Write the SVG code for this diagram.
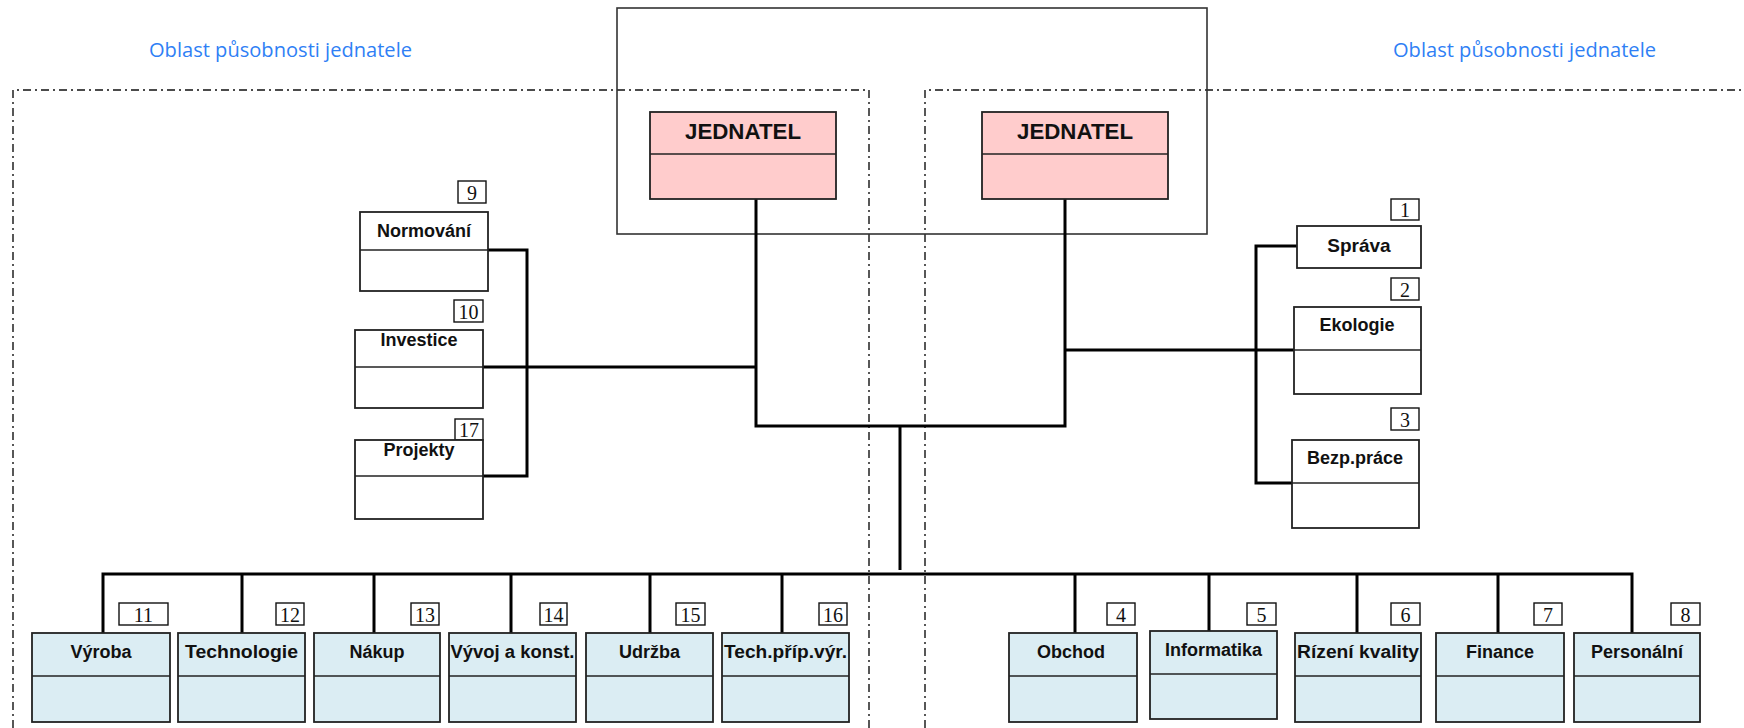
<svg xmlns="http://www.w3.org/2000/svg" width="1744" height="728" viewBox="0 0 1744 728">
  <style>
    .bg { fill: #ffffff; }
    .zone { fill: none; stroke: #111; stroke-width: 1.4; stroke-dasharray: 8 4 2 4; }
    .frame { fill: none; stroke: #333; stroke-width: 1.6; }
    .box { stroke: #222; stroke-width: 1.8; }
    .pink { fill: #ffcccc; }
    .blue { fill: #dbedf3; }
    .white { fill: #ffffff; }
    .div { stroke: #222; stroke-width: 1.6; }
    .num { fill: #ffffff; stroke: #111; stroke-width: 1.4; }
    .numt { font-family: "Liberation Serif", serif; font-size: 20px; fill: #111; text-anchor: middle; }
    .lbl { font-family: "Liberation Sans", Arial, sans-serif; font-size: 18px; font-weight: bold; fill: #111; text-anchor: middle; }
    .head { font-family: "Liberation Sans", Arial, sans-serif; font-size: 22px; font-weight: bold; fill: #111; text-anchor: middle; }
    .area { font-family: "Open Sans", "Noto Sans", sans-serif; font-size: 20px; fill: #2f7ff5; }
    .wire { fill: none; stroke: #000; stroke-width: 3; stroke-linejoin: miter; }
  </style>

  <rect class="bg" x="0" y="0" width="1744" height="728"/>

  <!-- areas of responsibility -->
  <g id="zones">
    <path class="zone" d="M13,728 V90 H869 V728"/>
    <path class="zone" d="M925,728 V90 H1744"/>
    <text class="area" x="149" y="57" textLength="263" lengthAdjust="spacingAndGlyphs">Oblast působnosti jednatele</text>
    <text class="area" x="1393" y="57" textLength="263" lengthAdjust="spacingAndGlyphs">Oblast působnosti jednatele</text>
  </g>

  <!-- management frame -->
  <rect id="management" class="frame" x="617" y="8" width="590" height="226"/>

  <!-- connectors -->
  <g id="connectors">
    <path class="wire" d="M756,199 V426 H1065 V199"/>
    <path class="wire" d="M900,426 V570"/>
    <path class="wire" d="M483,367 H756"/>
    <path class="wire" d="M488,250 H527 V476 H483"/>
    <path class="wire" d="M1065,350 H1294"/>
    <path class="wire" d="M1297,246 H1256 V483 H1292"/>
    <path class="wire" d="M103,633 V574 H1632 V633"/>
    <path class="wire" d="M242,574 V633 M374,574 V633 M511,574 V633 M650,574 V633 M782,574 V633 M1075,574 V633 M1209,574 V631 M1357,574 V633 M1498,574 V633"/>
  </g>

  <!-- executives -->
  <g id="jednatel-1">
    <rect class="box pink" x="650" y="112" width="186" height="87"/>
    <line class="div" x1="650" y1="154" x2="836" y2="154"/>
    <text class="head" x="743" y="139" textLength="116" lengthAdjust="spacingAndGlyphs">JEDNATEL</text>
  </g>
  <g id="jednatel-2">
    <rect class="box pink" x="982" y="112" width="186" height="87"/>
    <line class="div" x1="982" y1="154" x2="1168" y2="154"/>
    <text class="head" x="1075" y="139" textLength="116" lengthAdjust="spacingAndGlyphs">JEDNATEL</text>
  </g>

  <!-- staff units, left -->
  <g id="normovani">
    <rect class="num" x="458" y="181" width="28" height="22"/>
    <text class="numt" x="472" y="200">9</text>
    <rect class="box white" x="360" y="212" width="128" height="79"/>
    <line class="div" x1="360" y1="250" x2="488" y2="250"/>
    <text class="lbl" x="424" y="237">Normování</text>
  </g>
  <g id="investice">
    <rect class="num" x="454" y="300" width="29" height="22"/>
    <text class="numt" x="468.5" y="319">10</text>
    <rect class="box white" x="355" y="330" width="128" height="78"/>
    <line class="div" x1="355" y1="367" x2="483" y2="367"/>
    <text class="lbl" x="419" y="346">Investice</text>
  </g>
  <g id="projekty">
    <rect class="num" x="455" y="419" width="28" height="21"/>
    <text class="numt" x="469" y="437">17</text>
    <rect class="box white" x="355" y="440" width="128" height="79"/>
    <line class="div" x1="355" y1="476" x2="483" y2="476"/>
    <text class="lbl" x="419" y="456">Projekty</text>
  </g>

  <!-- staff units, right -->
  <g id="sprava">
    <rect class="num" x="1391" y="199" width="28" height="21"/>
    <text class="numt" x="1405" y="217">1</text>
    <rect class="box white" x="1297" y="226" width="124" height="42"/>
    <text class="lbl" x="1359" y="252" style="font-size:19px">Správa</text>
  </g>
  <g id="ekologie">
    <rect class="num" x="1391" y="278" width="28" height="22"/>
    <text class="numt" x="1405" y="297">2</text>
    <rect class="box white" x="1294" y="307" width="127" height="87"/>
    <line class="div" x1="1294" y1="350" x2="1421" y2="350"/>
    <text class="lbl" x="1357" y="331">Ekologie</text>
  </g>
  <g id="bezp-prace">
    <rect class="num" x="1391" y="408" width="28" height="22"/>
    <text class="numt" x="1405" y="427">3</text>
    <rect class="box white" x="1292" y="440" width="127" height="88"/>
    <line class="div" x1="1292" y1="483" x2="1419" y2="483"/>
    <text class="lbl" x="1355" y="464">Bezp.práce</text>
  </g>

  <!-- line departments -->
  <g id="vyroba">
    <rect class="num" x="119" y="603" width="49" height="22"/>
    <text class="numt" x="143.5" y="622">11</text>
    <rect class="box blue" x="32" y="633" width="138" height="89"/>
    <line class="div" x1="32" y1="676" x2="170" y2="676"/>
    <text class="lbl" x="101" y="658">Výroba</text>
  </g>
  <g id="technologie">
    <rect class="num" x="276" y="603" width="28" height="22"/>
    <text class="numt" x="290" y="622">12</text>
    <rect class="box blue" x="178" y="633" width="127" height="89"/>
    <line class="div" x1="178" y1="676" x2="305" y2="676"/>
    <text class="lbl" x="241.5" y="658" textLength="113" lengthAdjust="spacingAndGlyphs">Technologie</text>
  </g>
  <g id="nakup">
    <rect class="num" x="411" y="603" width="28" height="22"/>
    <text class="numt" x="425" y="622">13</text>
    <rect class="box blue" x="314" y="633" width="126" height="89"/>
    <line class="div" x1="314" y1="676" x2="440" y2="676"/>
    <text class="lbl" x="377" y="658">Nákup</text>
  </g>
  <g id="vyvoj">
    <rect class="num" x="540" y="603" width="27" height="22"/>
    <text class="numt" x="553.5" y="622">14</text>
    <rect class="box blue" x="449" y="633" width="127" height="89"/>
    <line class="div" x1="449" y1="676" x2="576" y2="676"/>
    <text class="lbl" x="512.5" y="658" textLength="124" lengthAdjust="spacingAndGlyphs">Vývoj a konst.</text>
  </g>
  <g id="udrzba">
    <rect class="num" x="676" y="603" width="29" height="22"/>
    <text class="numt" x="690.5" y="622">15</text>
    <rect class="box blue" x="586" y="633" width="127" height="89"/>
    <line class="div" x1="586" y1="676" x2="713" y2="676"/>
    <text class="lbl" x="649.5" y="658">Udržba</text>
  </g>
  <g id="tech-prip">
    <rect class="num" x="819" y="603" width="28" height="22"/>
    <text class="numt" x="833" y="622">16</text>
    <rect class="box blue" x="722" y="633" width="127" height="89"/>
    <line class="div" x1="722" y1="676" x2="849" y2="676"/>
    <text class="lbl" x="785.5" y="658" textLength="123" lengthAdjust="spacingAndGlyphs">Tech.příp.výr.</text>
  </g>
  <g id="obchod">
    <rect class="num" x="1107" y="603" width="28" height="22"/>
    <text class="numt" x="1121" y="622">4</text>
    <rect class="box blue" x="1009" y="633" width="128" height="89"/>
    <line class="div" x1="1009" y1="676" x2="1137" y2="676"/>
    <text class="lbl" x="1071" y="658">Obchod</text>
  </g>
  <g id="informatika">
    <rect class="num" x="1247" y="603" width="29" height="22"/>
    <text class="numt" x="1261.5" y="622">5</text>
    <rect class="box blue" x="1150" y="631" width="127" height="88"/>
    <line class="div" x1="1150" y1="674" x2="1277" y2="674"/>
    <text class="lbl" x="1213.5" y="656">Informatika</text>
  </g>
  <g id="rizeni-kvality">
    <rect class="num" x="1391" y="603" width="29" height="22"/>
    <text class="numt" x="1405.5" y="622">6</text>
    <rect class="box blue" x="1295" y="633" width="126" height="89"/>
    <line class="div" x1="1295" y1="676" x2="1421" y2="676"/>
    <text class="lbl" x="1358" y="658" textLength="122" lengthAdjust="spacingAndGlyphs">Rízení kvality</text>
  </g>
  <g id="finance">
    <rect class="num" x="1534" y="603" width="28" height="22"/>
    <text class="numt" x="1548" y="622">7</text>
    <rect class="box blue" x="1436" y="633" width="128" height="89"/>
    <line class="div" x1="1436" y1="676" x2="1564" y2="676"/>
    <text class="lbl" x="1500" y="658">Finance</text>
  </g>
  <g id="personalni">
    <rect class="num" x="1671" y="603" width="29" height="22"/>
    <text class="numt" x="1685.5" y="622">8</text>
    <rect class="box blue" x="1574" y="633" width="126" height="89"/>
    <line class="div" x1="1574" y1="676" x2="1700" y2="676"/>
    <text class="lbl" x="1637" y="658">Personální</text>
  </g>
</svg>
